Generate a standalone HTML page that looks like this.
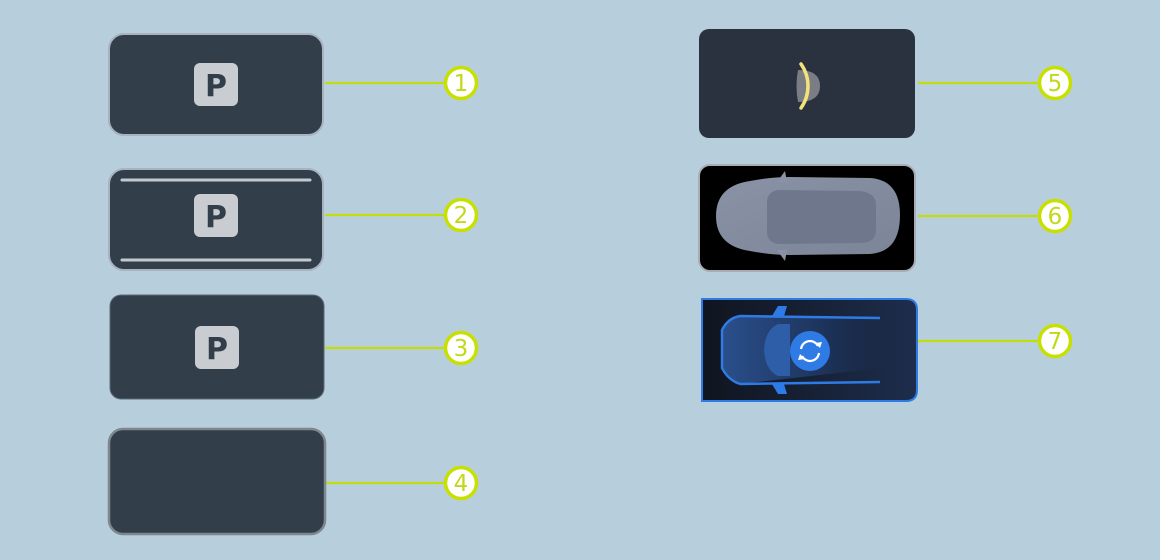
<!DOCTYPE html>
<html><head><meta charset="utf-8"><style>
html,body{margin:0;padding:0;background:#b7cfdc;}
svg{display:block;}
text{font-family:"DejaVu Sans","Liberation Sans",sans-serif;}
</style></head><body>
<svg width="1160" height="560" viewBox="0 0 1160 560" xmlns="http://www.w3.org/2000/svg">
<defs>
<linearGradient id="g7" x1="0" y1="0" x2="1" y2="0"><stop offset="0" stop-color="#10151f"/><stop offset="1" stop-color="#1d2d4c"/></linearGradient>
<linearGradient id="car7" x1="0" y1="0" x2="1" y2="0"><stop offset="0" stop-color="#2a4f8c"/><stop offset="0.6" stop-color="#1d3258"/><stop offset="1" stop-color="#1a2a48" stop-opacity="0"/></linearGradient>
<linearGradient id="car6" x1="0" y1="0" x2="1" y2="1"><stop offset="0" stop-color="#8a93a6"/><stop offset="1" stop-color="#7c8498"/></linearGradient>
</defs>
<g stroke="#c2dd0c" stroke-width="2.2">
<line x1="325" y1="83" x2="445" y2="83"/>
<line x1="325" y1="215" x2="445" y2="215"/>
<line x1="325" y1="348" x2="445" y2="348"/>
<line x1="325" y1="483" x2="445" y2="483"/>
<line x1="918" y1="83" x2="1039" y2="83"/>
<line x1="918" y1="216" x2="1039" y2="216"/>
<line x1="918" y1="341" x2="1039" y2="341"/>
</g>
<g fill="#fff" stroke="#c8e000" stroke-width="3.5">
<circle cx="461" cy="83" r="15.5"/><circle cx="461" cy="215" r="15.5"/><circle cx="461" cy="348" r="15.5"/><circle cx="461" cy="483" r="15.5"/>
<circle cx="1055" cy="83" r="15.5"/><circle cx="1055" cy="216" r="15.5"/><circle cx="1055" cy="341" r="15.5"/>
</g>
<g fill="#c2d81a" font-size="23" text-anchor="middle" font-family="Liberation Sans, sans-serif">
<text x="461" y="91">1</text><text x="461" y="223">2</text><text x="461" y="356">3</text><text x="461" y="491">4</text>
<text x="1055" y="91">5</text><text x="1055" y="224">6</text><text x="1055" y="349">7</text>
</g>
<rect x="109" y="34" width="214" height="101" rx="15" fill="#333e4b" stroke="#a8b3bf" stroke-width="2"/>
<rect x="109" y="169" width="214" height="101" rx="15" fill="#333e4b" stroke="#a8b3bf" stroke-width="2"/>
<line x1="122" y1="180" x2="310" y2="180" stroke="#c3c9d0" stroke-width="3" stroke-linecap="round"/>
<line x1="122" y1="260" x2="310" y2="260" stroke="#c3c9d0" stroke-width="3" stroke-linecap="round"/>
<rect x="110" y="295" width="214" height="104" rx="11" fill="#333e4b" stroke="#5d6a78" stroke-width="1"/>
<rect x="109" y="429" width="216" height="105" rx="14" fill="#333e4b" stroke="#7e868e" stroke-width="2.5"/>
<g font-family="Liberation Sans, sans-serif">
<rect x="194" y="63" width="44" height="43" rx="6" fill="#c9cdd2"/>
<text x="216" y="96" font-size="30" font-weight="bold" fill="#333e4b" text-anchor="middle">P</text>
<rect x="194" y="194" width="44" height="43" rx="6" fill="#c9cdd2"/>
<text x="216" y="227" font-size="30" font-weight="bold" fill="#333e4b" text-anchor="middle">P</text>
<rect x="195" y="326" width="44" height="43" rx="6" fill="#c9cdd2"/>
<text x="217" y="359" font-size="30" font-weight="bold" fill="#333e4b" text-anchor="middle">P</text>
</g>
<rect x="699" y="29" width="216" height="109" rx="10" fill="#2a3240"/>
<path d="M798 70 Q820 70 820 86 Q820 102 798 102 Q795 86 798 70 Z" fill="#7a7d83"/>
<path d="M801 64 Q808 74 808 86 Q808 98 801 108" stroke="#f2e27a" stroke-width="3.5" fill="none" stroke-linecap="round"/>
<rect x="699" y="165" width="216" height="106" rx="11" fill="#000" stroke="#a9adb3" stroke-width="2"/>
<path d="M750 181 Q770 177 790 177 L870 178 Q900 180 900 215 Q900 252 870 254 L790 255 Q770 255 750 251 Q716 246 716 216 Q716 186 750 181 Z" fill="url(#car6)"/>
<path d="M778 190 L860 191 Q876 193 876 205 L876 230 Q876 243 860 243 L778 244 Q767 242 767 232 L767 202 Q767 192 778 190 Z" fill="#6f778c"/>
<path d="M777 182 L785 171 L787 182 Z M777 250 L785 261 L787 250 Z" fill="#8a93a6"/>
<path d="M702 299 L906 299 Q917 299 917 310 L917 390 Q917 401 906 401 L702 401 Z" fill="url(#g7)" stroke="#2f7be6" stroke-width="2"/>
<path d="M740 316 L900 318 L900 366 L740 384 Q728 380 722 368 L722 330 Q728 318 740 316 Z" fill="url(#car7)"/>
<path d="M740 316 L880 318 M740 384 L880 382 M740 316 Q728 318 722 330 L722 368 Q728 380 740 384" stroke="#2f7be6" stroke-width="2.5" fill="none"/>
<path d="M772 316 L778 306 L787 306 L784 316 Z M772 384 L778 394 L787 394 L784 384 Z" fill="#2f7be6"/>
<path d="M778 324 Q765 330 764 350 Q765 370 778 376 L790 376 L790 324 Z" fill="#2e5ea8"/>
<circle cx="810" cy="351" r="20" fill="#2f7be6"/>
<path d="M801 349 A9 9 0 0 1 818 346 M819 353 A9 9 0 0 1 802 356" stroke="#fff" stroke-width="2.2" fill="none"/>
<path d="M815 343 L820 348 L822 342 Z M805 359 L800 354 L798 360 Z" fill="#fff"/>
</svg>
</body></html>
